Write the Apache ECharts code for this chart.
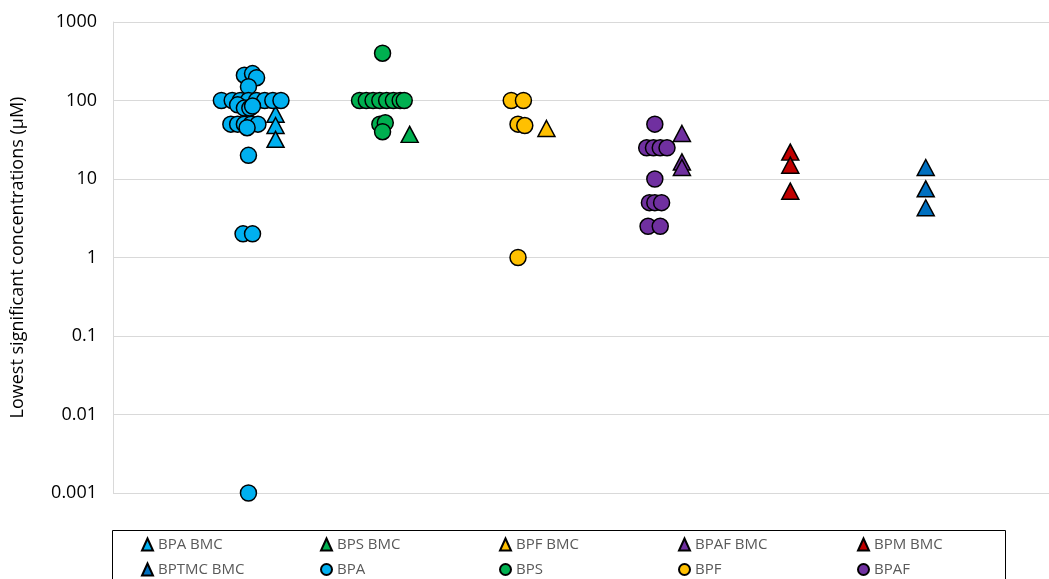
<!DOCTYPE html>
<html>
<head>
<meta charset="utf-8">
<script src="https://cdn.jsdelivr.net/npm/echarts@6/dist/echarts.min.js"></script>
<style>
  html, body { margin: 0; padding: 0; background: #fff; }
  #chart { width: 1049px; height: 579px; }
</style>
</head>
<body>
<div id="chart"></div>
<script>
// x = group position (1 = BPA ... 6 = BPTMC) with the jitter seen in the picture, y = concentration (µM)
const bpaBmc = [[1.2, 67], [1.2, 48], [1.2, 32]];
const bpsBmc = [[2.19, 37]];
const bpfBmc = [[3.2, 44]];
const bpafBmc = [[4.2, 38], [4.2, 16.5], [4.2, 14]];
const bpmBmc = [[5.0, 22], [5.0, 15], [5.0, 7]];
const bptmcBmc = [[6.0, 14], [6.0, 7.5], [6.0, 4.3]];

const bpa = [
  [0.97, 210], [1.03, 220], [1.06, 195], [1.0, 150],
  [0.8, 100], [0.88, 100], [0.94, 100], [1.0, 100], [1.06, 100], [1.12, 100], [1.18, 100], [1.24, 100],
  [0.92, 88], [0.97, 80], [1.01, 80], [1.03, 85],
  [0.87, 50], [0.92, 50], [0.97, 50], [1.02, 50], [1.07, 50], [0.99, 45],
  [1.0, 20], [0.96, 2], [1.03, 2], [1.0, 0.001]
];
const bps = [
  [1.99, 400],
  [1.82, 100], [1.87, 100], [1.92, 100], [1.97, 100], [2.02, 100], [2.07, 100], [2.12, 100], [2.15, 100],
  [1.97, 50], [2.01, 52], [1.99, 40]
];
const bpf = [[2.94, 100], [3.03, 100], [2.99, 50], [3.04, 48], [2.99, 1]];
const bpaf = [
  [4.0, 50],
  [3.94, 25], [3.99, 25], [4.04, 25], [4.09, 25],
  [4.0, 10],
  [3.96, 5], [4.0, 5], [4.05, 5],
  [3.95, 2.5], [4.04, 2.5]
];

// legend layout: two rows of five, in this order
const legendRows = [
  ['BPA BMC', 'BPS BMC', 'BPF BMC', 'BPAF BMC', 'BPM BMC'],
  ['BPTMC BMC', 'BPA', 'BPS', 'BPF', 'BPAF']
];

const seriesDefs = [
  { name: 'BPA BMC', data: bpaBmc, color: '#00B0F0', symbol: 'triangle' },
  { name: 'BPS BMC', data: bpsBmc, color: '#00B050', symbol: 'triangle' },
  { name: 'BPF BMC', data: bpfBmc, color: '#FFC000', symbol: 'triangle' },
  { name: 'BPAF BMC', data: bpafBmc, color: '#7030A0', symbol: 'triangle' },
  { name: 'BPM BMC', data: bpmBmc, color: '#C00000', symbol: 'triangle' },
  { name: 'BPTMC BMC', data: bptmcBmc, color: '#0070C0', symbol: 'triangle' },
  { name: 'BPA', data: bpa, color: '#00B0F0', symbol: 'circle' },
  { name: 'BPS', data: bps, color: '#00B050', symbol: 'circle' },
  { name: 'BPF', data: bpf, color: '#FFC000', symbol: 'circle' },
  { name: 'BPAF', data: bpaf, color: '#7030A0', symbol: 'circle' }
];

const symbolOf = {};
seriesDefs.forEach(s => { symbolOf[s.name] = s.symbol; });

// one legend per entry so the columns line up like the original
const legends = [];
legendRows.forEach((row, r) => {
  row.forEach((name, c) => {
    legends.push({
      data: [{ name: name, icon: symbolOf[name] }],
      left: 141 + c * 179,
      top: 537 + r * 25,
      itemWidth: 11,
      itemHeight: 12,
      selectedMode: false,
      padding: 0,
      textStyle: { fontFamily: 'Open Sans', fontSize: 15, color: '#595959' }
    });
  });
});

const chart = echarts.init(document.getElementById('chart'), null, { renderer: 'canvas' });

chart.setOption({
  animation: false,
  backgroundColor: '#fff',
  grid: { left: 113, right: 0, top: 22, bottom: 86 },
  xAxis: {
    type: 'value',
    min: 0,
    max: 6.91,
    show: false,
    splitLine: { show: false }
  },
  yAxis: {
    type: 'log',
    logBase: 10,
    min: 0.001,
    max: 1000,
    name: 'Lowest significant concentrations (µM)',
    nameLocation: 'middle',
    nameGap: 86,
    nameTextStyle: { fontFamily: 'Open Sans', fontSize: 18, color: '#000' },
    axisLine: { show: true, lineStyle: { color: '#D9D9D9', width: 1 } },
    axisTick: { show: false },
    axisLabel: {
      margin: 16,
      fontFamily: 'Open Sans',
      fontSize: 18,
      color: '#000',
      formatter: v => String(+(+v).toPrecision(6))
    },
    splitLine: { show: true, lineStyle: { color: '#D9D9D9', width: 1 } }
  },
  legend: legends,
  graphic: [{
    type: 'rect',
    shape: { x: 112.5, y: 530.5, width: 893, height: 70 },
    style: { fill: 'none', stroke: '#000', lineWidth: 1 },
    silent: true
  }],
  series: seriesDefs.map(s => ({
    name: s.name,
    type: 'scatter',
    data: s.data,
    symbol: s.symbol,
    symbolSize: s.symbol === 'triangle' ? [17, 16] : 16,
    itemStyle: { color: s.color, borderColor: '#000', borderWidth: 1.5, opacity: 1 },
    emphasis: { disabled: true }
  }))
});

window.addEventListener('resize', () => chart.resize());
</script>
</body>
</html>
